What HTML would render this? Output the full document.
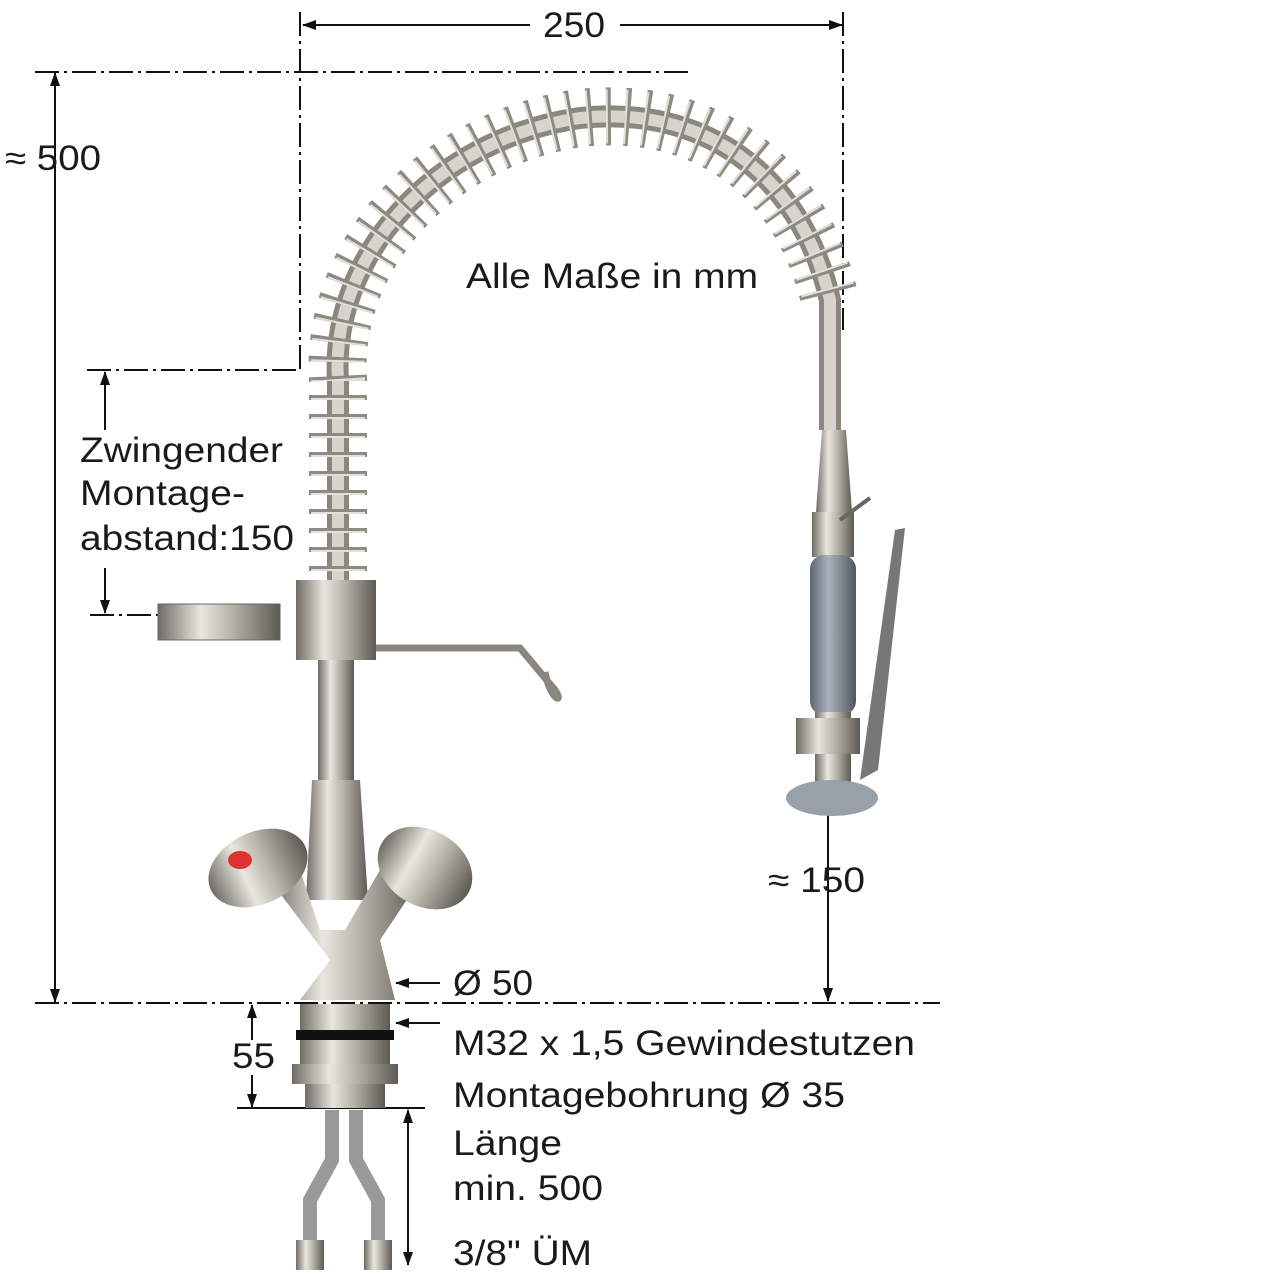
<!DOCTYPE html>
<html><head><meta charset="utf-8"><style>
html,body{margin:0;padding:0;background:#fff}
svg{display:block}
text{font-family:"Liberation Sans",sans-serif;fill:#1a1a1a}
</style></head><body>
<svg width="1280" height="1280" viewBox="0 0 1280 1280" xmlns="http://www.w3.org/2000/svg">
<defs>
<linearGradient id="met" x1="0" x2="1" y1="0" y2="0">
<stop offset="0" stop-color="#6e6c64"/><stop offset="0.35" stop-color="#e8e6de"/><stop offset="0.6" stop-color="#b7b4aa"/><stop offset="1" stop-color="#5c5a54"/>
</linearGradient>
<linearGradient id="grip" x1="0" x2="1"><stop offset="0" stop-color="#5d6670"/><stop offset="0.4" stop-color="#a9b2bc"/><stop offset="1" stop-color="#4f5760"/></linearGradient>
<marker id="ar" markerWidth="14" markerHeight="10" refX="13" refY="5" orient="auto" markerUnits="userSpaceOnUse"><path d="M0,0 L14,5 L0,10 Z" fill="#111"/></marker>
</defs>
<g stroke="#111" stroke-width="2" fill="none" stroke-dasharray="24 5 3 5">
<line x1="300" y1="12" x2="300" y2="370"/>
<line x1="843" y1="12" x2="843" y2="330"/>
<line x1="35" y1="72" x2="693" y2="72"/>
<line x1="87" y1="370" x2="300" y2="370"/>
<line x1="90" y1="615" x2="160" y2="615"/>
<line x1="35" y1="1003" x2="940" y2="1003"/>
</g>
<g stroke="#111" stroke-width="2" fill="none">
<line x1="530" y1="25" x2="303" y2="25" marker-end="url(#ar)"/>
<line x1="620" y1="25" x2="842" y2="25" marker-end="url(#ar)"/>
<line x1="55" y1="500" x2="55" y2="73" marker-end="url(#ar)"/>
<line x1="55" y1="500" x2="55" y2="1002" marker-end="url(#ar)"/>
<line x1="105" y1="430" x2="105" y2="372" marker-end="url(#ar)"/>
<line x1="105" y1="568" x2="105" y2="613" marker-end="url(#ar)"/>
<line x1="828" y1="815" x2="828" y2="1001" marker-end="url(#ar)"/>
<line x1="440" y1="983" x2="396" y2="983" marker-end="url(#ar)"/>
<line x1="440" y1="1023" x2="396" y2="1023" marker-end="url(#ar)"/>
<line x1="252" y1="1040" x2="252" y2="1005" marker-end="url(#ar)"/>
<line x1="252" y1="1075" x2="252" y2="1107" marker-end="url(#ar)"/>
<line x1="237" y1="1108" x2="425" y2="1108"/>
<line x1="408" y1="1180" x2="408" y2="1110" marker-end="url(#ar)"/>
<line x1="408" y1="1180" x2="408" y2="1265" marker-end="url(#ar)"/>
</g>
<path d="M338,590 L338,380 C330,260 430,140 580,118 C700,105 800,170 830,300 L830,430" fill="none" stroke="#8a877e" stroke-width="22"/>
<path d="M338,590 L338,380 C330,260 430,140 580,118 C700,105 800,170 830,300 L830,430" fill="none" stroke="#d6d4cc" stroke-width="12"/>
<path d="M338,590 L338,380 C330,260 430,140 580,118 C700,105 800,170 830,300" fill="none" stroke="#8c8a82" stroke-width="58" stroke-dasharray="5 14"/>
<path d="M338,590 L338,380 C330,260 430,140 580,118 C700,105 800,170 830,300" fill="none" stroke="#e2e0d8" stroke-width="54" stroke-dasharray="2 17"/>
<path d="M822,430 L846,430 L852,512 L816,512 Z" fill="url(#met)"/>
<rect x="812" y="512" width="42" height="45" fill="url(#met)"/>
<rect x="810" y="555" width="46" height="160" rx="14" fill="url(#grip)"/>
<rect x="815" y="712" width="36" height="70" fill="url(#met)"/>
<rect x="796" y="718" width="64" height="36" fill="url(#met)"/>
<ellipse cx="832" cy="798" rx="46" ry="18" fill="#98a0aa"/>
<path d="M895,530 L905,528 L878,770 L860,780 Z" fill="#777"/>
<path d="M840,520 L870,498" stroke="#666" stroke-width="4"/>
<rect x="158" y="604" width="122" height="36" fill="url(#met)" stroke="#666"/>
<rect x="296" y="580" width="80" height="80" fill="url(#met)"/>
<path d="M376,648 L520,648 L555,690 C565,705 550,700 545,672" fill="none" stroke="#8a877e" stroke-width="7"/>
<rect x="318" y="660" width="36" height="120" fill="url(#met)"/>
<path d="M312,780 L360,780 L368,900 L306,900 Z" fill="url(#met)"/>
<path d="M270,880 L330,960 L300,1000 L395,1000 L380,940 L420,880 L380,870 L345,930 L320,930 L300,870 Z" fill="url(#met)"/>
<ellipse cx="258" cy="868" rx="52" ry="36" fill="url(#met)" transform="rotate(-25 258 868)"/>
<ellipse cx="425" cy="868" rx="50" ry="38" fill="url(#met)" transform="rotate(30 425 868)"/>
<ellipse cx="240" cy="860" rx="12" ry="9" fill="#d33"/>
<rect x="300" y="1004" width="90" height="60" fill="url(#met)"/>
<rect x="296" y="1030" width="98" height="10" fill="#111"/>
<rect x="292" y="1064" width="106" height="20" fill="url(#met)"/>
<rect x="305" y="1084" width="80" height="24" fill="url(#met)"/>
<g stroke="#999" stroke-width="14" fill="none">
<path d="M332,1110 L332,1160 L310,1200 L310,1240"/>
<path d="M356,1110 L356,1160 L378,1200 L378,1240"/>
</g>
<rect x="296" y="1240" width="28" height="30" fill="url(#met)"/>
<rect x="364" y="1240" width="28" height="30" fill="url(#met)"/>
<g font-size="35" lengthAdjust="spacingAndGlyphs">
<text x="543" y="37" textLength="62" lengthAdjust="spacingAndGlyphs">250</text>
<text x="5" y="170" textLength="96" lengthAdjust="spacingAndGlyphs">≈ 500</text>
<text x="466" y="288" textLength="292" lengthAdjust="spacingAndGlyphs">Alle Maße in mm</text>
<text x="80" y="462" textLength="203" lengthAdjust="spacingAndGlyphs">Zwingender</text>
<text x="80" y="505" textLength="165" lengthAdjust="spacingAndGlyphs">Montage-</text>
<text x="80" y="550" textLength="214" lengthAdjust="spacingAndGlyphs">abstand:150</text>
<text x="768" y="892" textLength="97" lengthAdjust="spacingAndGlyphs">≈ 150</text>
<text x="453" y="995" textLength="80" lengthAdjust="spacingAndGlyphs">Ø 50</text>
<text x="453" y="1055" textLength="462" lengthAdjust="spacingAndGlyphs">M32 x 1,5 Gewindestutzen</text>
<text x="232" y="1068" textLength="43" lengthAdjust="spacingAndGlyphs">55</text>
<text x="453" y="1107" textLength="392" lengthAdjust="spacingAndGlyphs">Montagebohrung Ø 35</text>
<text x="453" y="1155" textLength="109" lengthAdjust="spacingAndGlyphs">Länge</text>
<text x="453" y="1200" textLength="150" lengthAdjust="spacingAndGlyphs">min. 500</text>
<text x="453" y="1265" textLength="139" lengthAdjust="spacingAndGlyphs">3/8" ÜM</text>
</g>
</svg>
</body></html>
